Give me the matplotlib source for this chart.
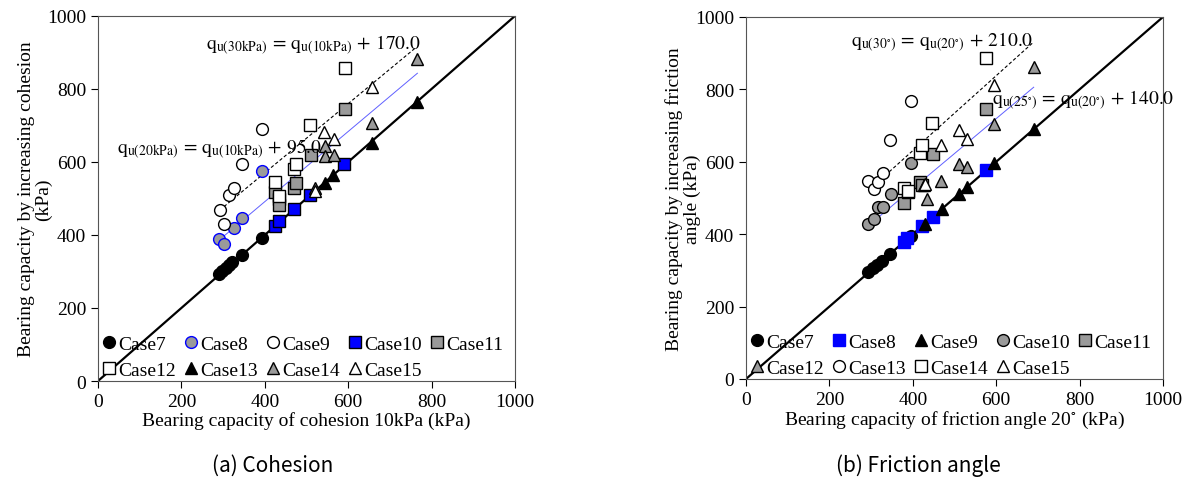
import matplotlib.pyplot as plt
import numpy as np

plt.rcParams['font.family'] = ['Liberation Serif', 'DejaVu Serif']
plt.rcParams['mathtext.fontset'] = 'stix'

##### (a) cohesion data #####
c7_x = [290, 298, 306, 314, 322, 346, 394]
c7_y = [293, 301, 309, 317, 325, 346, 393]
c8_x = [290, 302, 326, 346, 394]
c8_y = [390, 376, 419, 447, 575]
c9_x = [292, 302, 314, 326, 346, 394]
c9_y = [468, 429, 509, 530, 594, 689]
c10_x = [424, 434, 470, 508, 590]
c10_y = [425, 438, 470, 509, 594]
c11_x = [424, 434, 434, 470, 474, 510, 592]
c11_y = [518, 498, 481, 530, 543, 618, 744]
c12_x = [424, 434, 470, 474, 508, 592]
c12_y = [545, 507, 582, 594, 702, 858]
c13_x = [544, 564, 658, 766]
c13_y = [543, 563, 653, 763]
c14_x = [520, 544, 544, 566, 658, 766]
c14_y = [530, 644, 615, 618, 706, 883]
c15_x = [520, 542, 566, 658]
c15_y = [521, 682, 662, 806]

# fitted lines (x start/end, y start/end)
a_dash_x = [292, 762]
a_dash_y = [468, 913]
a_blue_x = [302, 766]
a_blue_y = [397, 843]

##### (b) friction angle data #####
f7_x = [292, 304, 314, 326, 346, 395]
f7_y = [295, 306, 315, 325, 346, 396]
f8_x = [378, 387, 422, 448, 576]
f8_y = [378, 389, 422, 447, 576]
f9_x = [430, 470, 510, 530, 595, 690]
f9_y = [429, 470, 511, 530, 596, 691]
f10_x = [292, 306, 316, 328, 347, 395]
f10_y = [427, 441, 475, 475, 512, 596]
f11_x = [378, 388, 418, 422, 448, 576]
f11_y = [486, 516, 544, 535, 622, 747]
f12_x = [428, 434, 468, 510, 530, 595, 690]
f12_y = [535, 497, 548, 594, 585, 705, 862]
f13_x = [292, 306, 316, 328, 346, 395]
f13_y = [548, 525, 544, 570, 659, 768]
f14_x = [378, 388, 418, 422, 446, 576]
f14_y = [527, 518, 624, 645, 708, 887]
f15_x = [430, 468, 510, 530, 595]
f15_y = [539, 645, 687, 664, 811]

b_dash_x = [294, 690]
b_dash_y = [521, 931]
b_blue_x = [294, 690]
b_blue_y = [424, 806]

grey = '#9a9a9a'
blue = '#0000ff'
ms = 8.5

fig = plt.figure(figsize=(11.89, 4.81), dpi=100)
ax1 = fig.add_axes([0.0824, 0.2058, 0.3507, 0.759])
ax2 = fig.add_axes([0.6274, 0.21, 0.3507, 0.7526])


def setup(ax, xlabel, ylabel):
    ax.plot([0, 1000], [0, 1000], color='black', lw=1.6, zorder=1)
    ax.set_xlim(0, 1000)
    ax.set_ylim(0, 1000)
    ax.set_xticks(np.arange(0, 1001, 200))
    ax.set_yticks(np.arange(0, 1001, 200))
    ax.tick_params(direction='out', labelsize=14, length=5)
    ax.set_xlabel(xlabel, fontsize=14, labelpad=1)
    ax.set_ylabel(ylabel, fontsize=14, linespacing=1.0, labelpad=-4)
    for s in ax.spines.values():
        s.set_color('#555555')


def pts(ax, x, y, m, fc, ec, label):
    ax.plot(x, y, linestyle='none', marker=m, ms=ms, mfc=fc, mec=ec, mew=1.0,
            label=label, zorder=3)


def legend_rows(ax):
    # fill legend row by row (matplotlib fills column by column)
    h, l = ax.get_legend_handles_labels()
    order = [0, 5, 1, 6, 2, 7, 3, 8, 4]
    ax.legend([h[i] for i in order], [l[i] for i in order],
              loc='lower left', bbox_to_anchor=(-0.035, -0.032), ncol=5, frameon=False,
              fontsize=14, handletextpad=-0.1, columnspacing=0.15, labelspacing=0.45,
              handlelength=1.2, borderpad=0.2)


#####(a) Cohesion#####
setup(ax1, 'Bearing capacity of cohesion 10kPa (kPa)',
      'Bearing capacity by increasing cohesion\n(kPa)')
ax1.plot(a_dash_x, a_dash_y, color='black', ls=(0, (3, 2)), lw=0.8, zorder=2)
ax1.plot(a_blue_x, a_blue_y, color='#6060ff', lw=0.7, zorder=2)
pts(ax1, c7_x, c7_y, 'o', 'black', 'black', 'Case7')
pts(ax1, c8_x, c8_y, 'o', grey, blue, 'Case8')
pts(ax1, c9_x, c9_y, 'o', 'white', 'black', 'Case9')
pts(ax1, c10_x, c10_y, 's', blue, 'black', 'Case10')
pts(ax1, c11_x, c11_y, 's', grey, 'black', 'Case11')
pts(ax1, c12_x, c12_y, 's', 'white', 'black', 'Case12')
pts(ax1, c13_x, c13_y, '^', 'black', 'black', 'Case13')
pts(ax1, c14_x, c14_y, '^', grey, 'black', 'Case14')
pts(ax1, c15_x, c15_y, '^', 'white', 'black', 'Case15')
ax1.text(258, 923, r'$\mathrm{q}_{\mathrm{u(30kPa)}}\,=\,\mathrm{q}_{\mathrm{u(10kPa)}}\,+\,170.0$',
         fontsize=14, va='center')
ax1.text(45, 636, r'$\mathrm{q}_{\mathrm{u(20kPa)}}\,=\,\mathrm{q}_{\mathrm{u(10kPa)}}\,+\,95.0$',
         fontsize=14, va='center')
legend_rows(ax1)

#####(b) Friction angle#####
setup(ax2, 'Bearing capacity of friction angle 20$^{\\circ}$ (kPa)',
      'Bearing capacity by increasing friction\nangle (kPa)')
ax2.plot(b_dash_x, b_dash_y, color='black', ls=(0, (3, 2)), lw=0.8, zorder=2)
ax2.plot(b_blue_x, b_blue_y, color='#6060ff', lw=0.7, zorder=2)
pts(ax2, f7_x, f7_y, 'o', 'black', 'black', 'Case7')
pts(ax2, f8_x, f8_y, 's', blue, blue, 'Case8')
pts(ax2, f9_x, f9_y, '^', 'black', 'black', 'Case9')
pts(ax2, f10_x, f10_y, 'o', grey, 'black', 'Case10')
pts(ax2, f11_x, f11_y, 's', grey, 'black', 'Case11')
pts(ax2, f12_x, f12_y, '^', grey, 'black', 'Case12')
pts(ax2, f13_x, f13_y, 'o', 'white', 'black', 'Case13')
pts(ax2, f14_x, f14_y, 's', 'white', 'black', 'Case14')
pts(ax2, f15_x, f15_y, '^', 'white', 'black', 'Case15')
ax2.text(252, 934, r'$\mathrm{q}_{\mathrm{u(30^{\circ})}}\,=\,\mathrm{q}_{\mathrm{u(20^{\circ})}}\,+\,210.0$',
         fontsize=14, va='center')
ax2.text(590, 773, r'$\mathrm{q}_{\mathrm{u(25^{\circ})}}\,=\,\mathrm{q}_{\mathrm{u(20^{\circ})}}\,+\,140.0$',
         fontsize=14, va='center')
legend_rows(ax2)

cap_font = ['Noto Sans CJK KR', 'DejaVu Sans']
fig.text(0.229, 0.031, '(a) Cohesion', fontsize=15, ha='center', va='center',
         family=cap_font)
fig.text(0.772, 0.031, '(b) Friction angle', fontsize=15, ha='center', va='center',
         family=cap_font)

fig.savefig('out.png', dpi=100)
